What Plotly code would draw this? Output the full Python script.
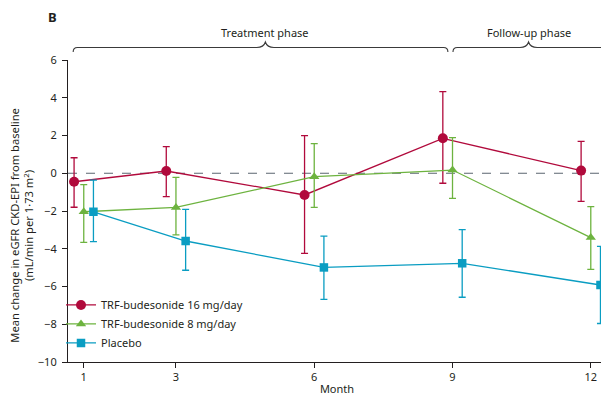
import plotly.graph_objects as go

months = [1, 3, 6, 9, 12]
tick_labels = ["1", "3", "6", "9", "12"]

names = ["TRF-budesonide 16 mg/day", "TRF-budesonide 8 mg/day", "Placebo"]
offsets = [-0.21, 0.0, 0.21]

mean_16 = [-0.45, 0.12, -1.15, 1.85, 0.14]
upper_16 = [0.82, 1.41, 1.99, 4.32, 1.69]
lower_16 = [-1.80, -1.24, -4.24, -0.53, -1.49]

mean_8 = [-2.04, -1.81, -0.18, 0.17, -3.41]
upper_8 = [-0.60, -0.22, 1.57, 1.89, -1.77]
lower_8 = [-3.66, -3.27, -1.81, -1.33, -5.09]

mean_pl = [-2.04, -3.59, -4.99, -4.77, -5.92]
upper_pl = [-0.36, -1.91, -3.33, -2.99, -3.87]
lower_pl = [-3.62, -5.14, -6.68, -6.57, -7.96]

colors = ["#B10A3C", "#6DB33F", "#0A9DC2"]
symbols = ["circle", "triangle-up", "square"]
msizes = [10, 9, 8.5]

means = [mean_16, mean_8, mean_pl]
uppers = [upper_16, upper_8, upper_pl]
lowers = [lower_16, lower_8, lower_pl]

FONT = "Noto Sans, Open Sans, sans-serif"
TXT = "#231F20"

XMIN, XMAX = 0.658, 12.33
YMIN, YMAX = -10, 6

fig = go.Figure()
for i in range(3):
    xs = [m + offsets[i] for m in months]
    fig.add_trace(go.Scatter(
        x=xs, y=means[i], name=names[i], mode="lines+markers", cliponaxis=False,
        line=dict(color=colors[i], width=1.3),
        marker=dict(symbol=symbols[i], size=msizes[i], color=colors[i], line=dict(width=0)),
        error_y=dict(type="data", symmetric=False,
                     array=[u - m for u, m in zip(uppers[i], means[i])],
                     arrayminus=[m - l for m, l in zip(means[i], lowers[i])],
                     color=colors[i], thickness=1.3, width=3.5),
    ))

# zero reference line
fig.add_shape(type="line", xref="paper", yref="y", x0=0, x1=1, y0=0, y1=0,
              line=dict(color="#5B6670", width=1.2, dash="dash"), layer="below")


def px(m):
    return (m - XMIN) / (XMAX - XMIN)


def brace(m0, m1, mpeak, y_line=1.0414, y_peak=1.0596, y_end=1.0265, r=0.008):
    x0, x1, xm = px(m0), px(m1), px(mpeak)
    return (f"M {x0},{y_end} Q {x0},{y_line} {x0 + r},{y_line} "
            f"L {xm - 2 * r},{y_line} Q {xm - r * 0.4},{y_line} {xm},{y_peak} "
            f"Q {xm + r * 0.4},{y_line} {xm + 2 * r},{y_line} "
            f"L {x1 - r},{y_line} Q {x1},{y_line} {x1},{y_end}")


phases = ["Treatment phase", "Follow-up phase"]
brace_spans = [(0.77, 8.90, 4.94), (9.01, 12.35, 10.65)]
for label, (a, b, c) in zip(phases, brace_spans):
    fig.add_shape(type="path", xref="paper", yref="paper", path=brace(a, b, c),
                  line=dict(color="#3A3A3A", width=1.1))
    fig.add_annotation(text=label, xref="paper", yref="paper", x=px(c), y=1.0927,
                       showarrow=False, xanchor="center", yanchor="middle",
                       font=dict(family=FONT, size=11, color=TXT))

fig.add_annotation(text="<b>B</b>", xref="paper", yref="paper", x=-0.029, y=1.142,
                   showarrow=False, xanchor="center", yanchor="middle",
                   font=dict(family=FONT, size=13, color=TXT))

fig.add_annotation(text="Mean change in eGFR CKD-EPI from baseline<br>(mL/min per 1·73 m<sup>2</sup>)",
                   xref="paper", yref="paper", x=-0.086, y=0.4536, textangle=-90,
                   showarrow=False, xanchor="center", yanchor="middle", borderpad=0,
                   font=dict(family=FONT, size=11.2, color=TXT))

fig.update_layout(
    width=601, height=391,
    margin=dict(l=59.5, r=3, t=52, b=37),
    paper_bgcolor="white", plot_bgcolor="white",
    font=dict(family=FONT, size=11, color=TXT),
    showlegend=True,
    legend=dict(x=-0.013, y=0.015, xanchor="left", yanchor="bottom",
                bgcolor="rgba(0,0,0,0)", font=dict(family=FONT, size=11, color=TXT),
                tracegroupgap=0, itemsizing="trace"),
    xaxis=dict(range=[XMIN, XMAX], tickvals=months, ticktext=tick_labels,
               showgrid=False, zeroline=False, showline=True, linecolor="#231F20",
               linewidth=1.2, ticks="outside", ticklen=5, tickwidth=1, tickcolor="#231F20",
               title=dict(text="Month", standoff=2, font=dict(family=FONT, size=11, color=TXT))),
    yaxis=dict(range=[YMIN, YMAX], tickvals=list(range(-10, 7, 2)),
               showgrid=False, zeroline=False, showline=True, linecolor="#231F20",
               linewidth=1.2, ticks="outside", ticklen=5, tickwidth=1, tickcolor="#231F20",
               ticklabelstandoff=3),
)

fig.write_html("out.html")
